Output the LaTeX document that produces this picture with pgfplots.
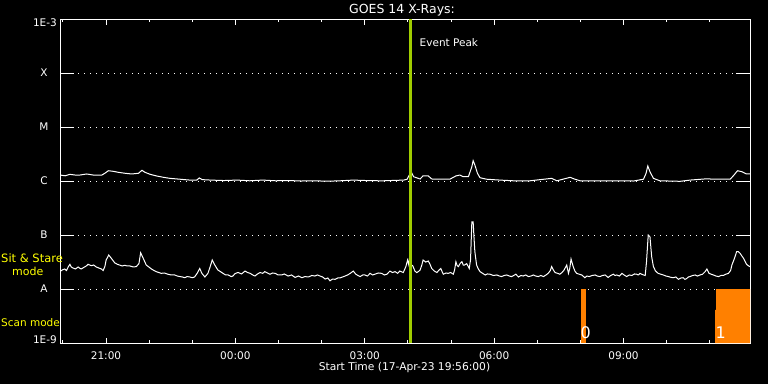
\documentclass[border=0pt]{standalone}
\usepackage{pgfplots}
\pgfplotsset{compat=1.18}
\usepackage{fontspec}
\setmainfont{DejaVu Sans}
\definecolor{peakgreen}{RGB}{160,205,0}
\definecolor{scanorange}{RGB}{255,128,0}
\definecolor{modeyellow}{RGB}{255,255,0}
\newcommand\lbl{\fontsize{10.5}{12}\selectfont}
\begin{document}
\begin{tikzpicture}[x=1pt,y=1pt]
\fill[black] (-60,-41) rectangle (708,343);
% grid + y ticks
\begin{axis}[at={(0,0)}, anchor=south west, scale only axis,
  width=690pt, height=324pt,
  xmin=0, xmax=16, ymode=log, ymin=1e-9, ymax=1e-3,
  xtick=\empty, ytick={1e-8,1e-7,1e-6,1e-5,1e-4}, yticklabels={},
  yminorticks=false, ymajorgrids,
  major grid style={white, line width=1pt, dash pattern=on 1pt off 5pt},
  major tick length=14pt, tick align=inside, ytick pos=both,
  tick style={white, line width=1pt},
  axis line style={white, line width=1pt}]
\end{axis}
% data + x ticks
\begin{axis}[at={(0,0)}, anchor=south west, scale only axis,
  width=690pt, height=324pt,
  xmin=0, xmax=16, ymode=log, ymin=1e-9, ymax=1e-3,
  ytick=\empty, yminorticks=false, no markers,
  xtick={1.0667,4.0667,7.0667,10.0667,13.0667},
  xticklabels={21:00,00:00,03:00,06:00,09:00},
  minor xtick={0.0667,2.0667,3.0667,5.0667,6.0667,8.0667,9.0667,11.0667,12.0667,14.0667,15.0667},
  major tick length=5.5pt, minor tick length=3pt, tick align=inside, xtick pos=both,
  tick style={white, line width=1pt},
  axis line style={white, line width=1pt},
  xticklabel style={white, font=\lbl, yshift=-5pt}]
% scan mode bars
\addplot[fill=scanorange, draw=none] coordinates {(12.081,1e-9) (12.081,1e-8) (12.197,1e-8) (12.197,1e-9)} -- cycle;
\addplot[fill=scanorange, draw=none] coordinates {(15.19,1e-9) (15.19,4.1e-9) (15.212,4.1e-9) (15.212,1e-8) (16,1e-8) (16,1e-9)} -- cycle;
% long channel
\addplot[white, line width=1pt] coordinates {
(0.00,1.29e-6)(0.12,1.25e-6)(0.23,1.33e-6)(0.35,1.29e-6)(0.46,1.29e-6)(0.62,1.35e-6)(0.77,1.29e-6)
(0.97,1.29e-6)(1.04,1.39e-6)(1.12,1.55e-6)(1.24,1.51e-6)(1.35,1.45e-6)(1.51,1.39e-6)(1.66,1.35e-6)
(1.82,1.39e-6)(1.90,1.58e-6)(1.97,1.45e-6)(2.09,1.33e-6)(2.24,1.24e-6)(2.40,1.17e-6)(2.55,1.12e-6)
(2.78,1.08e-6)(3.01,1.04e-6)(3.17,1.04e-6)(3.23,1.14e-6)(3.30,1.06e-6)(3.50,1.04e-6)(3.80,1.02e-6)
(4.10,1.04e-6)(4.40,1.01e-6)(4.70,1.04e-6)(5.00,1.01e-6)(5.30,1.02e-6)(5.60,1.00e-6)(5.90,1.01e-6)
(6.20,0.99e-6)(6.50,1.01e-6)(6.80,1.04e-6)(7.10,1.02e-6)(7.40,1.01e-6)(7.50,1.01e-6)(7.97,1.04e-6)
(8.05,1.08e-6)(8.14,1.49e-6)(8.20,1.20e-6)(8.35,1.09e-6)(8.42,1.25e-6)(8.54,1.24e-6)(8.62,1.09e-6)
(8.77,1.08e-6)(9.04,1.08e-6)(9.18,1.24e-6)(9.27,1.29e-6)(9.35,1.20e-6)(9.47,1.20e-6)(9.55,1.84e-6)
(9.58,2.38e-6)(9.62,1.98e-6)(9.68,1.39e-6)(9.74,1.15e-6)(9.89,1.08e-6)(10.20,1.04e-6)(10.51,1.01e-6)
(10.90,1.01e-6)(11.40,1.12e-6)(11.52,1.01e-6)(11.83,1.17e-6)(11.94,1.08e-6)(12.06,1.01e-6)
(12.60,1.01e-6)(12.83,1.01e-6)(13.30,1.00e-6)(13.53,1.08e-6)(13.59,1.39e-6)(13.63,1.90e-6)
(13.68,1.49e-6)(13.76,1.12e-6)(13.91,1.01e-6)(14.38,0.987e-6)(14.61,1.04e-6)(15.00,1.10e-6)
(15.15,1.08e-6)(15.54,1.08e-6)(15.61,1.24e-6)(15.71,1.55e-6)(15.81,1.49e-6)(15.92,1.35e-6)(16.00,1.35e-6)
};
% short channel
\addplot[white, line width=1pt] coordinates {
(0.00,2.10e-8)(0.05,2.25e-8)(0.11,2.35e-8)(0.15,2.20e-8)(0.19,2.56e-8)(0.23,2.87e-8)(0.26,2.56e-8)
(0.30,2.45e-8)(0.36,2.35e-8)(0.42,2.56e-8)(0.45,2.45e-8)(0.49,2.35e-8)(0.53,2.45e-8)(0.57,2.56e-8)
(0.61,2.67e-8)(0.65,2.87e-8)(0.69,2.78e-8)(0.73,2.70e-8)(0.78,2.78e-8)(0.84,2.56e-8)(0.90,2.45e-8)
(0.96,2.35e-8)(1.00,2.20e-8)(1.04,2.60e-8)(1.07,3.44e-8)(1.13,4.26e-8)(1.19,3.70e-8)(1.27,3.05e-8)
(1.33,2.87e-8)(1.38,2.78e-8)(1.44,2.67e-8)(1.50,2.75e-8)(1.56,2.67e-8)(1.62,2.67e-8)(1.70,2.56e-8)
(1.77,2.60e-8)(1.83,2.95e-8)(1.87,4.70e-8)(1.93,3.70e-8)(2.00,2.78e-8)(2.06,2.56e-8)(2.12,2.35e-8)
(2.18,2.20e-8)(2.23,2.10e-8)(2.29,2.02e-8)(2.35,1.95e-8)(2.42,1.98e-8)(2.50,1.88e-8)(2.58,1.82e-8)
(2.66,1.82e-8)(2.72,1.74e-8)(2.78,1.70e-8)(2.84,1.67e-8)(2.89,1.62e-8)(2.95,1.70e-8)(3.01,1.67e-8)
(3.07,1.62e-8)(3.12,1.67e-8)(3.18,1.95e-8)(3.24,2.40e-8)(3.29,1.95e-8)(3.36,1.67e-8)(3.43,1.95e-8)
(3.48,2.56e-8)(3.53,3.44e-8)(3.59,2.78e-8)(3.66,2.25e-8)(3.72,2.10e-8)(3.78,1.95e-8)(3.84,1.82e-8)
(3.90,1.82e-8)(3.97,1.70e-8)(4.01,1.74e-8)
(4.05,1.90e-8)(4.09,1.98e-8)(4.13,2.02e-8)(4.21,1.90e-8)(4.29,2.15e-8)(4.35,2.02e-8)(4.41,1.95e-8)
(4.47,1.82e-8)(4.52,1.74e-8)(4.58,1.90e-8)(4.64,2.02e-8)(4.70,1.95e-8)(4.75,2.10e-8)(4.81,1.98e-8)
(4.87,1.88e-8)(4.93,1.98e-8)(4.99,1.95e-8)(5.06,1.82e-8)(5.14,1.82e-8)(5.20,1.90e-8)(5.29,1.74e-8)
(5.37,1.82e-8)(5.45,1.64e-8)(5.53,1.74e-8)(5.61,1.62e-8)(5.68,1.70e-8)(5.76,1.67e-8)(5.84,1.78e-8)
(5.91,1.74e-8)(5.97,1.82e-8)(6.03,1.74e-8)(6.09,1.67e-8)(6.15,1.53e-8)(6.21,1.60e-8)(6.26,1.42e-8)
(6.32,1.53e-8)(6.38,1.51e-8)(6.44,1.60e-8)(6.49,1.60e-8)(6.55,1.67e-8)(6.61,1.74e-8)(6.67,1.82e-8)
(6.73,1.95e-8)(6.80,2.15e-8)(6.86,1.88e-8)(6.91,1.78e-8)(6.96,1.70e-8)(7.02,1.82e-8)(7.07,1.82e-8)
(7.13,1.74e-8)(7.19,1.95e-8)(7.25,1.82e-8)(7.30,1.88e-8)(7.38,1.98e-8)(7.46,1.95e-8)(7.52,1.82e-8)
(7.58,1.88e-8)(7.65,2.15e-8)(7.71,2.02e-8)(7.77,2.10e-8)(7.83,1.95e-8)(7.88,2.15e-8)(7.96,2.02e-8)
(8.02,2.60e-8)(8.06,3.44e-8)(8.09,2.78e-8)(8.12,5.27e-8)(8.15,2.78e-8)(8.18,2.70e-8)(8.23,2.15e-8)
(8.27,2.02e-8)(8.31,2.10e-8)(8.35,2.25e-8)(8.39,2.78e-8)(8.42,3.44e-8)(8.48,3.16e-8)(8.54,3.30e-8)
(8.58,2.87e-8)(8.62,2.40e-8)(8.68,2.15e-8)(8.74,2.02e-8)(8.79,2.25e-8)(8.83,2.40e-8)(8.86,2.10e-8)
(8.89,1.88e-8)(8.95,1.98e-8)(9.00,1.95e-8)(9.06,2.02e-8)(9.12,1.88e-8)(9.15,2.25e-8)(9.18,3.20e-8)
(9.21,2.70e-8)(9.24,2.60e-8)(9.28,3.00e-8)(9.32,3.20e-8)(9.35,2.78e-8)(9.38,2.78e-8)(9.43,2.95e-8)
(9.49,2.40e-8)(9.52,3.50e-8)(9.55,1.76e-7)(9.58,1.76e-7)(9.60,9.0e-8)(9.62,4.91e-8)(9.66,2.78e-8)
(9.70,2.35e-8)(9.74,2.10e-8)(9.80,1.95e-8)(9.86,1.82e-8)(9.91,1.90e-8)(9.97,1.88e-8)(10.05,1.78e-8)
(10.13,1.82e-8)(10.19,1.74e-8)(10.24,1.70e-8)(10.30,1.78e-8)(10.36,1.82e-8)(10.42,1.74e-8)
(10.47,1.70e-8)(10.52,1.78e-8)(10.57,1.88e-8)(10.63,1.67e-8)(10.69,1.78e-8)(10.74,1.74e-8)
(10.80,1.82e-8)(10.86,1.70e-8)(10.92,1.74e-8)(10.98,1.82e-8)(11.03,1.74e-8)(11.09,1.70e-8)
(11.15,1.78e-8)(11.21,1.70e-8)(11.27,1.82e-8)(11.32,1.95e-8)(11.37,2.20e-8)(11.40,2.60e-8)
(11.44,2.25e-8)(11.48,2.02e-8)(11.54,1.95e-8)(11.59,1.88e-8)(11.64,2.02e-8)(11.69,2.25e-8)
(11.75,2.78e-8)(11.79,1.95e-8)(11.82,2.40e-8)(11.85,3.59e-8)(11.90,2.60e-8)(11.94,2.15e-8)
(11.98,1.95e-8)(12.04,1.88e-8)(12.10,1.82e-8)(12.17,1.62e-8)(12.22,1.74e-8)(12.27,1.70e-8)
(12.34,1.78e-8)(12.41,1.82e-8)(12.46,1.74e-8)(12.52,1.70e-8)(12.58,1.78e-8)(12.64,1.82e-8)
(12.71,1.64e-8)(12.77,1.78e-8)(12.83,1.88e-8)(12.87,1.78e-8)(12.91,1.82e-8)(12.97,1.74e-8)
(13.03,1.95e-8)(13.08,1.82e-8)(13.14,1.70e-8)(13.20,1.82e-8)(13.26,1.78e-8)(13.32,1.90e-8)
(13.37,1.88e-8)(13.41,1.82e-8)(13.45,1.95e-8)(13.49,1.88e-8)(13.53,1.82e-8)(13.57,1.78e-8)
(13.60,3.20e-8)(13.64,1.00e-7)(13.68,9.30e-8)(13.72,3.96e-8)(13.76,2.60e-8)(13.81,2.15e-8)
(13.87,1.95e-8)(13.93,1.88e-8)(13.99,1.82e-8)(14.05,1.74e-8)(14.11,1.70e-8)(14.17,1.64e-8)
(14.22,1.62e-8)(14.28,1.67e-8)(14.34,1.51e-8)(14.40,1.60e-8)(14.45,1.62e-8)(14.49,1.51e-8)
(14.53,1.56e-8)(14.57,1.67e-8)(14.61,1.70e-8)(14.67,1.78e-8)(14.73,1.82e-8)(14.78,1.74e-8)
(14.84,1.82e-8)(14.90,1.88e-8)(14.96,2.10e-8)(15.00,2.35e-8)(15.05,1.95e-8)(15.10,1.88e-8)
(15.15,1.82e-8)(15.21,1.74e-8)(15.27,1.70e-8)(15.33,1.78e-8)(15.38,1.78e-8)(15.44,1.88e-8)
(15.50,1.95e-8)(15.55,2.20e-8)(15.58,2.78e-8)(15.64,3.70e-8)(15.69,4.91e-8)(15.73,4.91e-8)
(15.77,4.58e-8)(15.81,4.10e-8)(15.85,3.70e-8)(15.89,3.20e-8)(15.92,2.87e-8)(15.96,2.70e-8)(16.00,2.60e-8)
};
% event peak
\addplot[peakgreen, line width=3pt] coordinates {(8.116,1e-9) (8.116,1e-3)};
\end{axis}
% texts
\node[white, font=\fontsize{12.5}{14}\selectfont] at (342,333) {GOES 14 X-Rays:};
\node[white, font=\fontsize{10.7}{12}\selectfont] at (344.5,-25) {Start Time (17-Apr-23 19:56:00)};
\node[white, font=\lbl, anchor=west, inner sep=0pt] at (359.5,300) {Event Peak};
\node[white, font=\fontsize{16}{16}\selectfont, anchor=west, inner sep=0pt] at (520.5,10) {0};
\node[white, font=\fontsize{16}{16}\selectfont, anchor=west, inner sep=0pt] at (655.5,10) {1};
\node[white, font=\lbl, anchor=east, inner sep=0pt] at (-3,320) {1E-3};
\node[white, font=\lbl, anchor=east, inner sep=0pt] at (-3,3) {1E-9};
\node[white, font=\lbl, inner sep=0pt] at (-16,270) {X};
\node[white, font=\lbl, inner sep=0pt] at (-16,216) {M};
\node[white, font=\lbl, inner sep=0pt] at (-16,162) {C};
\node[white, font=\lbl, inner sep=0pt] at (-16,108) {B};
\node[white, font=\lbl, inner sep=0pt] at (-16,54) {A};
\node[modeyellow, font=\fontsize{11.5}{13}\selectfont, anchor=west, inner sep=0pt] at (-59,85) {Sit \& Stare};
\node[modeyellow, font=\fontsize{11}{13}\selectfont, anchor=west, inner sep=0pt] at (-48,72) {mode};
\node[modeyellow, font=\lbl, anchor=west, inner sep=0pt] at (-59,20) {Scan mode};
\end{tikzpicture}
\end{document}
